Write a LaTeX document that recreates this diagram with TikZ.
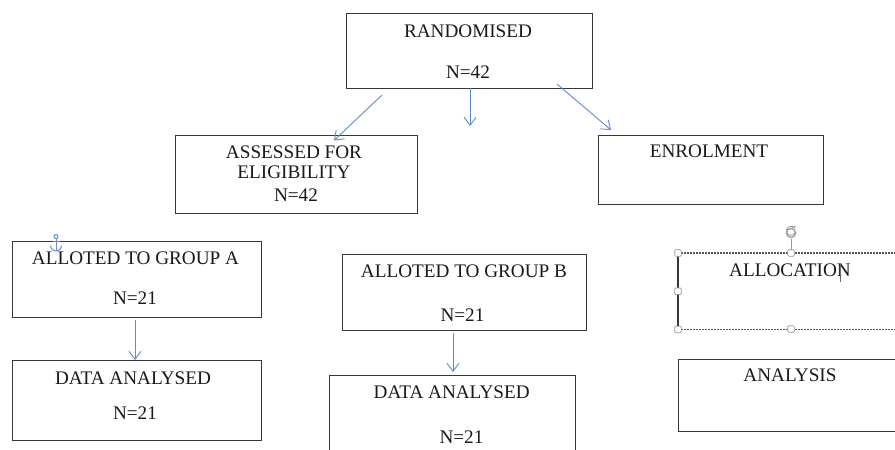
\documentclass[tikz,border=0pt]{standalone}
\usepackage{fontspec}
\setmainfont{Liberation Serif}
\usetikzlibrary{arrows.meta}
\definecolor{arrowblue}{RGB}{95,140,205}
\definecolor{boxgray}{RGB}{55,55,55}
\definecolor{handlegray}{RGB}{150,150,150}
\definecolor{textdark}{RGB}{25,25,25}
\begin{document}
\begin{tikzpicture}[x=1pt,y=-1pt,
 box/.style={draw=boxgray, line width=1.1pt, rectangle, inner sep=0pt, anchor=north west},
 ghost/.style={rectangle, inner sep=0pt, anchor=north west},
 txt/.style={font=\fontsize{19.2}{21}\selectfont, text=textdark, inner sep=0pt, anchor=center},
 flow/.style={draw=arrowblue, line width=0.9pt, -{Straight Barb[length=8pt,width=12pt]}},
 handle/.style={draw=handlegray, fill=white, line width=0.7pt, minimum size=6.5pt, inner sep=0pt, rectangle, rounded corners=1pt},
 selline/.style={draw=boxgray!85, line width=1.1pt, dash pattern=on 2pt off 1pt}
]
\useasboundingbox (0,0) rectangle (895,450);
\clip (0,0) rectangle (895,450);

% boxes
\node[box, minimum width=246pt, minimum height=75pt] (rand) at (346,13) {};
\node[box, minimum width=242pt, minimum height=78pt] (assess) at (175,135) {};
\node[box, minimum width=225pt, minimum height=69pt] (enrol) at (598,135) {};
\node[box, minimum width=249pt, minimum height=76pt] (allotA) at (12,241) {};
\node[box, minimum width=249pt, minimum height=80pt] (dataA) at (12,360) {};
\node[box, minimum width=244pt, minimum height=76pt] (allotB) at (342,254) {};
\node[box, minimum width=246pt, minimum height=95pt] (dataB) at (329,375) {};
\node[box, minimum width=260pt, minimum height=72pt] (analysis) at (678,359) {};
\node[ghost, minimum width=260pt, minimum height=76pt] (alloc) at (678,253) {};

% selected (dashed) allocation frame
\draw[selline] (alloc.north west) -- (alloc.north east);
\draw[selline] (alloc.south west) -- (alloc.south east);
\draw[draw=boxgray, line width=1.1pt] (alloc.north west) -- (alloc.south west);

% texts
\node[txt] (randT) at (468,31.7) {RANDOMISED};
\node[txt] (randN) at (468,71.7) {N=42};
\node[txt] (assT1) at (294,152.5) {ASSESSED FOR};
\node[txt] (assT2) at (294,172.5) {ELIGIBILITY};
\node[txt] (assN) at (296,195) {N=42};
\node[txt] (enrolT) at (709,151.7) {ENROLMENT};
\node[txt] (allotAT) at (135.5,258.3) {ALLOTED TO GROUP A};
\node[txt] (allotAN) at (135,298.3) {N=21};
\node[txt] (dataAT) at (133,378) {DATA ANALYSED};
\node[txt] (dataAN) at (135,413) {N=21};
\node[txt] (allotBT) at (464,271.7) {ALLOTED TO GROUP B};
\node[txt] (allotBN) at (462.5,315) {N=21};
\node[txt] (dataBT) at (451.7,392.7) {DATA ANALYSED};
\node[txt] (dataBN) at (461.5,436.7) {N=21};
\node[txt] (allocT) at (790,270) {ALLOCATION};
\node[txt] (analysisT) at (790,375) {ANALYSIS};

% connector end points
\coordinate (l1) at (382,95);
\coordinate (l2) at (334,140.5);
\coordinate (m1) at (470,88);
\coordinate (m2) at (470,126);
\coordinate (r1) at (557,84);
\coordinate (r2) at (611,130);
\coordinate (a1) at (135,320);
\coordinate (b1) at (453,333);
\coordinate (b2) at (453,372);

\draw[flow] (l1) -- (l2);
\draw[flow] (m1) -- (m2);
\draw[flow] (r1) -- (r2);
\draw[flow] (a1) -- (a1 |- dataA.north);
\draw[flow] (b1) -- (b2);

% text cursor
\draw[handlegray!70!black, line width=0.5pt] (840,263) -- (840,282);

% selection handles
\draw[handlegray, line width=0.7pt] (791,239) -- (791,253);
\node[handle] (h1) at (alloc.north west) {};
\node[handle] (h2) at (791,253) {};
\node[handle] (h3) at (alloc.west) {};
\node[handle] (h4) at (alloc.south west) {};
\node[handle] (h5) at (791,329) {};
% rotation handle
\draw[handlegray!80, line width=1.6pt] (791,233) circle[radius=4.5pt];
\draw[handlegray, line width=0.8pt, -{Straight Barb[length=2pt,width=3.5pt]}] (795.5,232) arc[start angle=-15, end angle=-330, radius=4.6pt];

% anchor icon
\begin{scope}[draw=arrowblue, line width=1pt]
\draw (56,236.5) circle[radius=2pt];
\draw (56,238.5) -- (56,251);
\draw (52.5,241) -- (59.5,241);
\draw (50.5,245.5) .. controls (51,250) and (54,251) .. (56,251) .. controls (58,251) and (61,250) .. (61.5,245.5);
\end{scope}
\end{tikzpicture}
\end{document}
